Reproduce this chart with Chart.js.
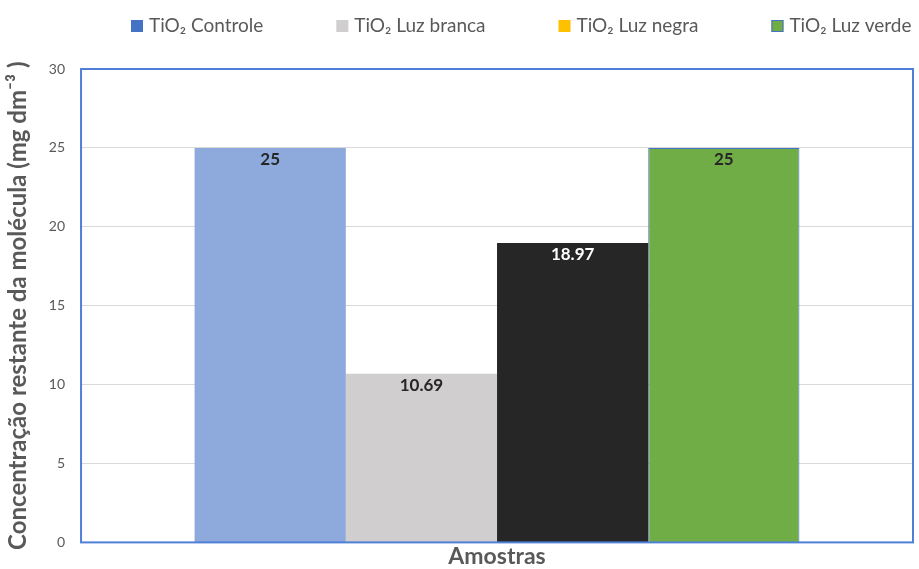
<!DOCTYPE html>
<html>
<head>
<meta charset="utf-8">
<script src="https://cdn.jsdelivr.net/npm/chart.js@4.4.0/dist/chart.umd.min.js"></script>
<style>
  html, body { margin: 0; padding: 0; background: #fff; }
  #wrap { width: 919px; height: 569px; }
</style>
</head>
<body>
<div id="wrap"><canvas id="chart"></canvas></div>
<script>
// Data
const categories = [''];
const seriesNames = ['TiO₂ Controle', 'TiO₂ Luz branca', 'TiO₂ Luz negra', 'TiO₂ Luz verde'];
const seriesValues = [25, 10.69, 18.97, 25];
const yTicks = [0, 5, 10, 15, 20, 25, 30];

const barColors = ['#8EA9DB', '#D0CECE', '#262626', '#70AD47'];
const legendColors = ['#4472C4', '#D0CECE', '#FFC000', '#70AD47'];
const labelColors = ['#262626', '#262626', '#FFFFFF', '#262626'];
const FONT = 'Lato, "Open Sans", sans-serif';

// box around plot area
const plotBox = {
    id: 'plotBox',
    afterDraw(chart) {
        const a = chart.chartArea;
        const c = chart.ctx;
        c.save();
        c.strokeStyle = '#4F7FD6';
        c.lineWidth = 2;
        c.strokeRect(a.left, a.top, a.right - a.left, a.bottom - a.top);
        c.restore();
    }
};

// value labels inside top of bars
const valueLabels = {
    id: 'valueLabels',
    afterDatasetsDraw(chart) {
        const c = chart.ctx;
        c.save();
        c.font = 'bold 17px ' + FONT;
        c.textAlign = 'center';
        c.textBaseline = 'top';
        chart.data.datasets.forEach((ds, i) => {
            const bar = chart.getDatasetMeta(i).data[0];
            c.fillStyle = labelColors[i];
            c.fillText(String(ds.data[0]), bar.x, bar.y + 3);
        });
        c.restore();
    }
};

// legend drawn in Excel style (spread across the top)
const topLegend = {
    id: 'topLegend',
    afterDraw(chart) {
        const c = chart.ctx;
        c.save();
        c.font = '19px ' + FONT;
        c.textBaseline = 'middle';
        let x = 131;
        const y = 26;
        chart.data.datasets.forEach((ds, i) => {
            c.fillStyle = legendColors[i];
            c.fillRect(x, y - 6, 12, 12);
            if (i === 3) {
                c.strokeStyle = '#4472C4';
                c.lineWidth = 1;
                c.strokeRect(x + 0.5, y - 5.5, 11, 11);
            }
            c.fillStyle = '#595959';
            c.fillText(ds.label, x + 18, y);
            x += 18 + c.measureText(ds.label).width + 73;
        });
        c.restore();
    }
};

new Chart(document.getElementById('chart'), {
    type: 'bar',
    data: {
        labels: categories,
        datasets: seriesNames.map((name, i) => ({
            label: name,
            data: [seriesValues[i]],
            backgroundColor: barColors[i],
            borderColor: i === 3 ? '#4472C4' : barColors[i],
            borderWidth: i === 3 ? 1 : 0
        }))
    },
    options: {
        responsive: true,
        maintainAspectRatio: false,
        animation: false,
        layout: { padding: { left: 4, right: 6, top: 69, bottom: -1 } },
        datasets: {
            bar: { categoryPercentage: 0.727, barPercentage: 1.0 }
        },
        plugins: {
            tooltip: { enabled: false },
            legend: { display: false }
        },
        scales: {
            x: {
                grid: { display: false, drawTicks: false },
                border: { display: false },
                ticks: { display: false },
                title: {
                    display: true,
                    text: 'Amostras',
                    color: '#595959',
                    font: { family: FONT, size: 23, weight: 'bold' },
                    padding: { top: 0, bottom: 0 }
                }
            },
            y: {
                min: 0,
                max: 30,
                afterBuildTicks(axis) {
                    axis.ticks = yTicks.map(v => ({ value: v }));
                },
                grid: { color: '#D9D9D9', drawTicks: false },
                border: { display: false },
                ticks: {
                    color: '#595959',
                    padding: 16,
                    font: { family: FONT, size: 14 }
                },
                title: {
                    display: true,
                    text: 'Concentração restante da molécula (mg dm⁻³ )',
                    color: '#595959',
                    font: { family: FONT, size: 24, weight: 'bold' },
                    padding: { top: 0, bottom: 0 }
                }
            }
        }
    },
    plugins: [plotBox, valueLabels, topLegend]
});
</script>
</body>
</html>
